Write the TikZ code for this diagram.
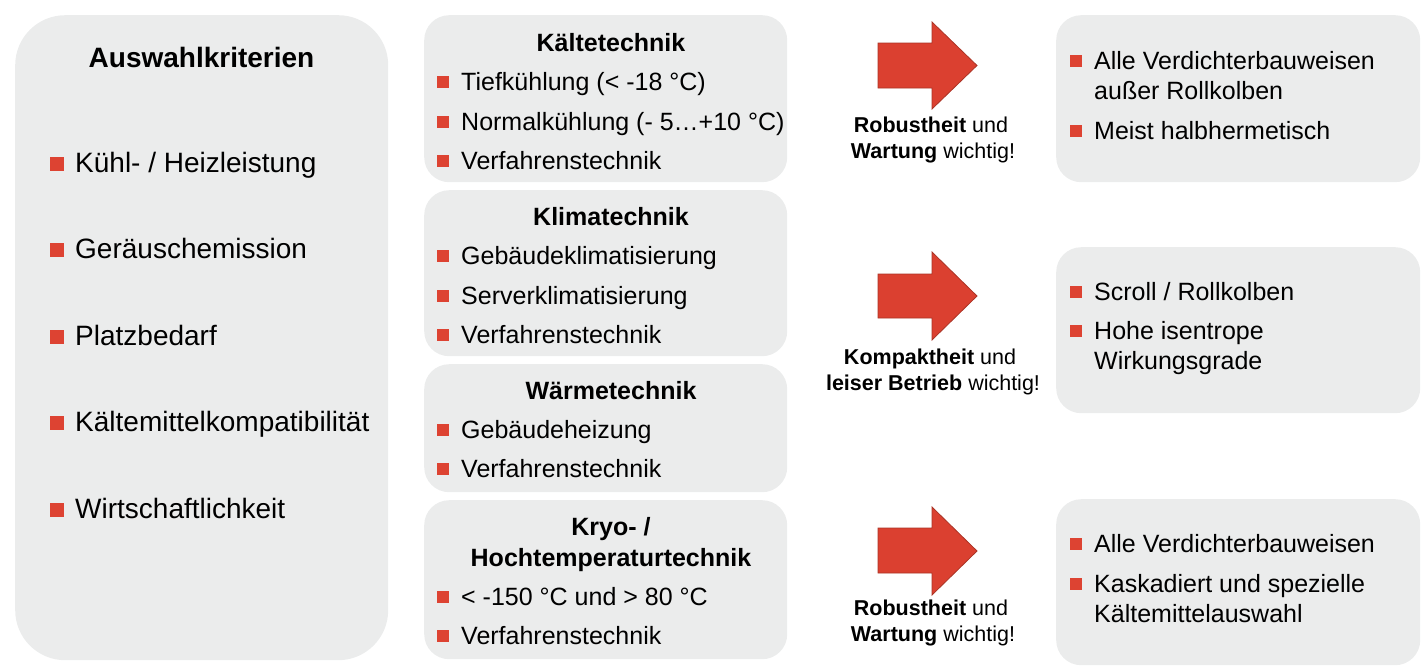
\documentclass[tikz,border=0pt]{standalone}
\usepackage{fontspec}
\setmainfont{Liberation Sans}
\definecolor{boxgray}{RGB}{235,236,236}
\definecolor{bred}{RGB}{221,67,50}
\definecolor{ared}{RGB}{219,64,48}
\definecolor{aredline}{RGB}{170,52,38}
\tikzset{
  bigbox/.style={fill=boxgray, draw=none, rounded corners=50pt, anchor=north west, inner sep=0},
  smallbox/.style={fill=boxgray, draw=none, rounded corners=25pt, anchor=north west, inner sep=0},
  txt/.style={anchor=base west, inner sep=0, font=\fontsize{25}{30}\selectfont},
  ltxt/.style={anchor=base west, inner sep=0, font=\fontsize{28}{33}\selectfont},
  ttl/.style={anchor=base, inner sep=0, font=\bfseries\fontsize{25}{30}\selectfont},
  lttl/.style={anchor=base, inner sep=0, font=\bfseries\fontsize{28}{33}\selectfont},
  lbl/.style={anchor=base, inner sep=0, font=\fontsize{21.5}{26}\selectfont},
  bul/.style={fill=bred, draw=none, inner sep=0},
  bigarrow/.style={fill=ared, draw=aredline, line width=0.8pt, line join=miter}
}
\newcommand{\mybul}[6]{%
  \node[bul, minimum size=#6] (#2b) at (#3-18,#4-8) {};
  \node[#1] (#2) at (#3,#4) {#5};}
\begin{document}
\begin{tikzpicture}[x=1pt,y=-1pt]
\useasboundingbox (0,0) rectangle (1425,670);
% left box
\node[bigbox, minimum width=373, minimum height=645] (left) at (15,15) {};
\node[lttl] (lt) at (201.5,67) {Auswahlkriterien};
\mybul{ltxt}{la}{75}{172}{Kühl- / Heizleistung}{14.5}
\mybul{ltxt}{lb}{75}{258}{Geräuschemission}{14.5}
\mybul{ltxt}{lc}{75}{345}{Platzbedarf}{14.5}
\mybul{ltxt}{ld}{75}{431}{Kältemittelkompatibilität}{14.5}
\mybul{ltxt}{le}{75}{518}{Wirtschaftlichkeit}{14.5}
% middle boxes
\node[smallbox, minimum width=363, minimum height=167] (m1) at (424,15) {};
\node[smallbox, minimum width=363, minimum height=166] (m2) at (424,190) {};
\node[smallbox, minimum width=363, minimum height=128] (m3) at (424,364) {};
\node[smallbox, minimum width=363, minimum height=159] (m4) at (424,500) {};
\node[ttl] (t1) at (611,51) {Kältetechnik};
\mybul{txt}{a1}{461}{90}{Tiefkühlung (< -18 °C)}{12.5}
\mybul{txt}{a2}{461}{130}{Normalkühlung (- 5…+10 °C)}{12.5}
\mybul{txt}{a3}{461}{169}{Verfahrenstechnik}{12.5}
\node[ttl] (t2) at (611,225) {Klimatechnik};
\mybul{txt}{b1}{461}{264}{Gebäudeklimatisierung}{12.5}
\mybul{txt}{b2}{461}{304}{Serverklimatisierung}{12.5}
\mybul{txt}{b3}{461}{343}{Verfahrenstechnik}{12.5}
\node[ttl] (t3) at (611,399) {Wärmetechnik};
\mybul{txt}{c1}{461}{438}{Gebäudeheizung}{12.5}
\mybul{txt}{c2}{461}{477}{Verfahrenstechnik}{12.5}
\node[ttl] (t4a) at (611,535) {Kryo- /};
\node[ttl] (t4b) at (611,566) {Hochtemperaturtechnik};
\mybul{txt}{d1}{461}{605}{< -150 °C und > 80 °C}{12.5}
\mybul{txt}{d2}{461}{644}{Verfahrenstechnik}{12.5}
% arrows
\draw[bigarrow] (878,43) -- (932,43) -- (932,22) -- (977,65.5) -- (932,109) -- (932,88) -- (878,88) -- cycle;
\draw[bigarrow] (878,274) -- (932,274) -- (932,252) -- (977,296) -- (932,340) -- (932,318) -- (878,318) -- cycle;
\draw[bigarrow] (878,528) -- (932,528) -- (932,507) -- (977,551) -- (932,595) -- (932,573) -- (878,573) -- cycle;
\node[lbl] (r1a) at (931,132) {\bfseries Robustheit\mdseries{} und};
\node[lbl] (r1b) at (933,158) {\bfseries Wartung\mdseries{} wichtig!};
\node[lbl] (r2a) at (930,364) {\bfseries Kompaktheit\mdseries{} und};
\node[lbl] (r2b) at (933,390) {\bfseries leiser Betrieb\mdseries{} wichtig!};
\node[lbl] (r3a) at (931,615) {\bfseries Robustheit\mdseries{} und};
\node[lbl] (r3b) at (933,641) {\bfseries Wartung\mdseries{} wichtig!};
% right boxes
\node[smallbox, minimum width=364, minimum height=167] (q1) at (1056,15) {};
\node[smallbox, minimum width=364, minimum height=166] (q2) at (1056,247) {};
\node[smallbox, minimum width=364, minimum height=166] (q3) at (1056,499) {};
\mybul{txt}{e1}{1094}{69}{Alle Verdichterbauweisen}{12.5}
\node[txt] (e1b) at (1094,99) {außer Rollkolben};
\mybul{txt}{e2}{1094}{139}{Meist halbhermetisch}{12.5}
\mybul{txt}{f1}{1094}{300}{Scroll / Rollkolben}{12.5}
\mybul{txt}{f2}{1094}{339}{Hohe isentrope}{12.5}
\node[txt] (f2b) at (1094,369) {Wirkungsgrade};
\mybul{txt}{g1}{1094}{552}{Alle Verdichterbauweisen}{12.5}
\mybul{txt}{g2}{1094}{592}{Kaskadiert und spezielle}{12.5}
\node[txt] (g2b) at (1094,622) {Kältemittelauswahl};
\end{tikzpicture}
\end{document}
